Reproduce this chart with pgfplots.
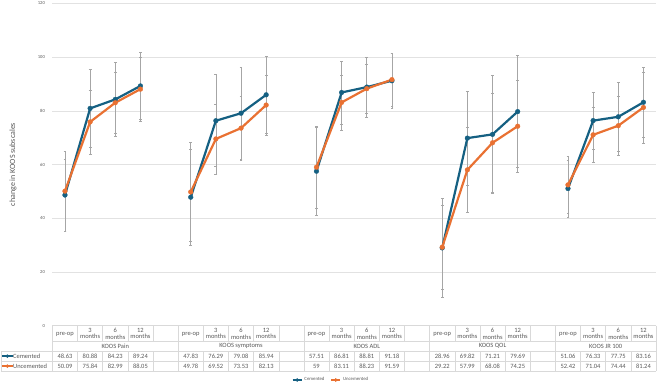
\documentclass[border=0pt]{standalone}
\usepackage{fontspec}
\setmainfont{Carlito}
\usepackage{pgfplots}
\pgfplotsset{compat=1.18}
\usepackage{pgfplotstable}
\definecolor{cem}{HTML}{156082}
\definecolor{unc}{HTML}{E97132}
\definecolor{errc}{HTML}{A6A6A6}
\definecolor{gridc}{HTML}{E2E2E2}
\definecolor{tabc}{HTML}{D9D9D9}
\definecolor{txt}{HTML}{595959}

% x: category index (gaps between subscales are nan rows)
% c/ce: Cemented mean / error, u/ue: Uncemented mean / error
\pgfplotstableread{
x  c     ce    u     ue
0  48.63 13.4  50.09 15.0
1  80.88 14.6  75.84 11.9
2  84.23 13.9  82.99 11.4
3  89.24 12.6  88.05 12.0
4  nan   nan   nan   nan
5  47.83 17.9  49.78 18.5
6  76.29 17.1  69.52 13.0
7  79.08 17.1  73.53 11.9
8  85.94 14.5  82.13 11.2
9  nan   nan   nan   nan
10 57.51 16.5  59.00 15.3
11 86.81 11.7  83.11 10.2
12 88.81 11.2  88.23 9.2
13 91.18 10.2  91.59 9.8
14 nan   nan   nan   nan
15 28.96 18.3  29.22 15.7
16 69.82 17.4  57.99 15.7
17 71.21 22.1  68.08 18.5
18 79.69 20.9  74.25 17.0
19 nan   nan   nan   nan
20 51.06 10.6  52.42 10.7
21 76.33 10.6  71.04 10.2
22 77.75 12.9  74.44 10.9
23 83.16 12.9  81.24 13.2
}\koos

\begin{document}
\begin{tikzpicture}
\useasboundingbox (0,0) rectangle (658bp,383bp);
\begin{axis}[
  at={(52.4bp,57.3bp)}, anchor=south west,
  scale only axis, width=603.6bp, height=322.4bp,
  xmin=-0.5, xmax=23.5, ymin=0, ymax=120,
  xtick=\empty, ytick={0,20,...,120},
  ymajorgrids, grid style={gridc, line width=0.5bp},
  axis line style={draw=none}, major tick length=0pt,
  yticklabel style={font=\fontsize{4.6}{5}\selectfont, text=txt, xshift=-4bp},
  /pgf/number format/assume math mode=true,
  clip=false,
  unbounded coords=jump,
  ylabel={change in KOOS subscales},
  ylabel style={at={(axis description cs:-0.0653,0.5)}, anchor=center,
    font=\fontsize{8}{9}\selectfont, text=txt},
  legend style={at={(axis description cs:0.4616,-0.1684)}, anchor=center,
    draw=none, fill=none, legend columns=2, font=\fontsize{4.8}{6}\selectfont,
    text=txt, /tikz/every even column/.append style={column sep=4bp},
    inner sep=0pt},
  legend image code/.code={\draw[mark repeat=2,mark phase=2, mark size=1.6bp, line width=1.6bp]
      plot coordinates {(0bp,0bp)(4.5bp,0bp)(9bp,0bp)};},
  table row/.style={draw=none, mark=none, forget plot,
    skip coords between index={4}{5}, skip coords between index={9}{10},
    skip coords between index={14}{15}, skip coords between index={19}{20},
    nodes near coords={\pgfmathprintnumber[fixed, precision=2]{\pgfplotspointmeta}},
    point meta=explicit, nodes near coords align={anchor=center},
    every node near coord/.style={font=\fontsize{6.5}{7}\selectfont, text=txt, anchor=center, inner sep=0pt}},
]
% error bars
\addplot[draw=none, mark=none, forget plot,
  error bars/.cd, y dir=both, y explicit,
  error bar style={draw=errc, line width=0.6bp},
  error mark options={rotate=90, draw=errc, mark size=1.4bp, line width=0.6bp}]
  table[x=x, y=c, y error=ce]{\koos};
\addplot[draw=none, mark=none, forget plot,
  error bars/.cd, y dir=both, y explicit,
  error bar style={draw=errc, line width=0.6bp},
  error mark options={rotate=90, draw=errc, mark size=1.4bp, line width=0.6bp}]
  table[x=x, y=u, y error=ue]{\koos};
% series
\addplot[cem, line width=2.2bp, mark=*, mark size=2.4bp,
  mark options={solid, fill=cem, draw=cem, line width=0.3bp}]
  table[x=x, y=c]{\koos};
\addlegendentry{Cemented}
\addplot[unc, line width=2.2bp, mark=*, mark size=2.4bp,
  mark options={solid, fill=unc, draw=unc, line width=0.3bp}]
  table[x=x, y=u]{\koos};
\addlegendentry{Uncemented}

% data table values
\addplot[table row] table[x=x, y expr={-11.3}, meta=c]{\koos};
\addplot[table row] table[x=x, y expr={-15.0}, meta=u]{\koos};

% table grid
\draw[tabc, line width=0.5bp] (axis cs:-0.5,0) -- (axis cs:23.5,0);
\draw[tabc, line width=0.5bp] (axis cs:-0.5,-5.7) -- (axis cs:23.5,-5.7);
\draw[tabc, line width=0.5bp] (axis cs:-2.545,-9.5) -- (axis cs:23.5,-9.5);
\draw[tabc, line width=0.5bp] (axis cs:-2.545,-13.2) -- (axis cs:23.5,-13.2);
\draw[tabc, line width=0.5bp] (axis cs:-2.545,-16.9) -- (axis cs:23.5,-16.9);
\draw[tabc, line width=0.5bp] (axis cs:-2.545,-9.5) -- (axis cs:-2.545,-16.9);
\pgfplotsinvokeforeach{-0.5,0.5,1.5,2.5,3.5,4.5,5.5,6.5,7.5,8.5,9.5,10.5,11.5,12.5,13.5,14.5,15.5,16.5,17.5,18.5,19.5,20.5,21.5,22.5,23.5}{
  \draw[tabc, line width=0.5bp] (axis cs:#1,0) -- (axis cs:#1,-5.7);
  \draw[tabc, line width=0.5bp] (axis cs:#1,-9.5) -- (axis cs:#1,-16.9);
}
\pgfplotsinvokeforeach{-0.5,4.5,9.5,14.5,19.5,23.5}{
  \draw[tabc, line width=0.5bp] (axis cs:#1,-5.7) -- (axis cs:#1,-9.5);
}
% header labels
\pgfplotsinvokeforeach{0,5,10,15,20}{
  \node[font=\fontsize{6.5}{6.5}\selectfont, text=txt] at (axis cs:#1,-3.35) {pre-op};
}
\pgfplotsinvokeforeach{1,6,11,16,21}{
  \node[font=\fontsize{6.5}{6.3}\selectfont, text=txt, align=center] at (axis cs:#1,-3.0) {3\\months};
}
\pgfplotsinvokeforeach{2,7,12,17,22}{
  \node[font=\fontsize{6.5}{6.3}\selectfont, text=txt, align=center] at (axis cs:#1,-3.0) {6\\months};
}
\pgfplotsinvokeforeach{3,8,13,18,23}{
  \node[font=\fontsize{6.5}{6.3}\selectfont, text=txt, align=center] at (axis cs:#1,-3.0) {12\\months};
}
\node[font=\fontsize{6.5}{7}\selectfont, text=txt] at (axis cs:2,-7.6) {KOOS Pain};
\node[font=\fontsize{6.5}{7}\selectfont, text=txt] at (axis cs:7,-7.6) {KOOS symptoms};
\node[font=\fontsize{6.5}{7}\selectfont, text=txt] at (axis cs:12,-7.6) {KOOS ADL};
\node[font=\fontsize{6.5}{7}\selectfont, text=txt] at (axis cs:17,-7.6) {KOOS QOL};
\node[font=\fontsize{6.5}{7}\selectfont, text=txt] at (axis cs:21.5,-7.6) {KOOS JR 100};
% row labels with keys
\draw[cem, line width=1.8bp] (axis cs:-2.50,-11.35) -- (axis cs:-2.07,-11.35);
\fill[cem] (axis cs:-2.29,-11.35) circle[radius=1.9bp];
\node[font=\fontsize{6.5}{7}\selectfont, text=txt, anchor=west, inner sep=0pt] at (axis cs:-2.07,-11.35) {Cemented};
\draw[unc, line width=1.8bp] (axis cs:-2.50,-15.05) -- (axis cs:-2.07,-15.05);
\fill[unc] (axis cs:-2.29,-15.05) circle[radius=1.9bp];
\node[font=\fontsize{6.5}{7}\selectfont, text=txt, anchor=west, inner sep=0pt] at (axis cs:-2.07,-15.05) {Uncemented};
\end{axis}
\end{tikzpicture}
\end{document}
